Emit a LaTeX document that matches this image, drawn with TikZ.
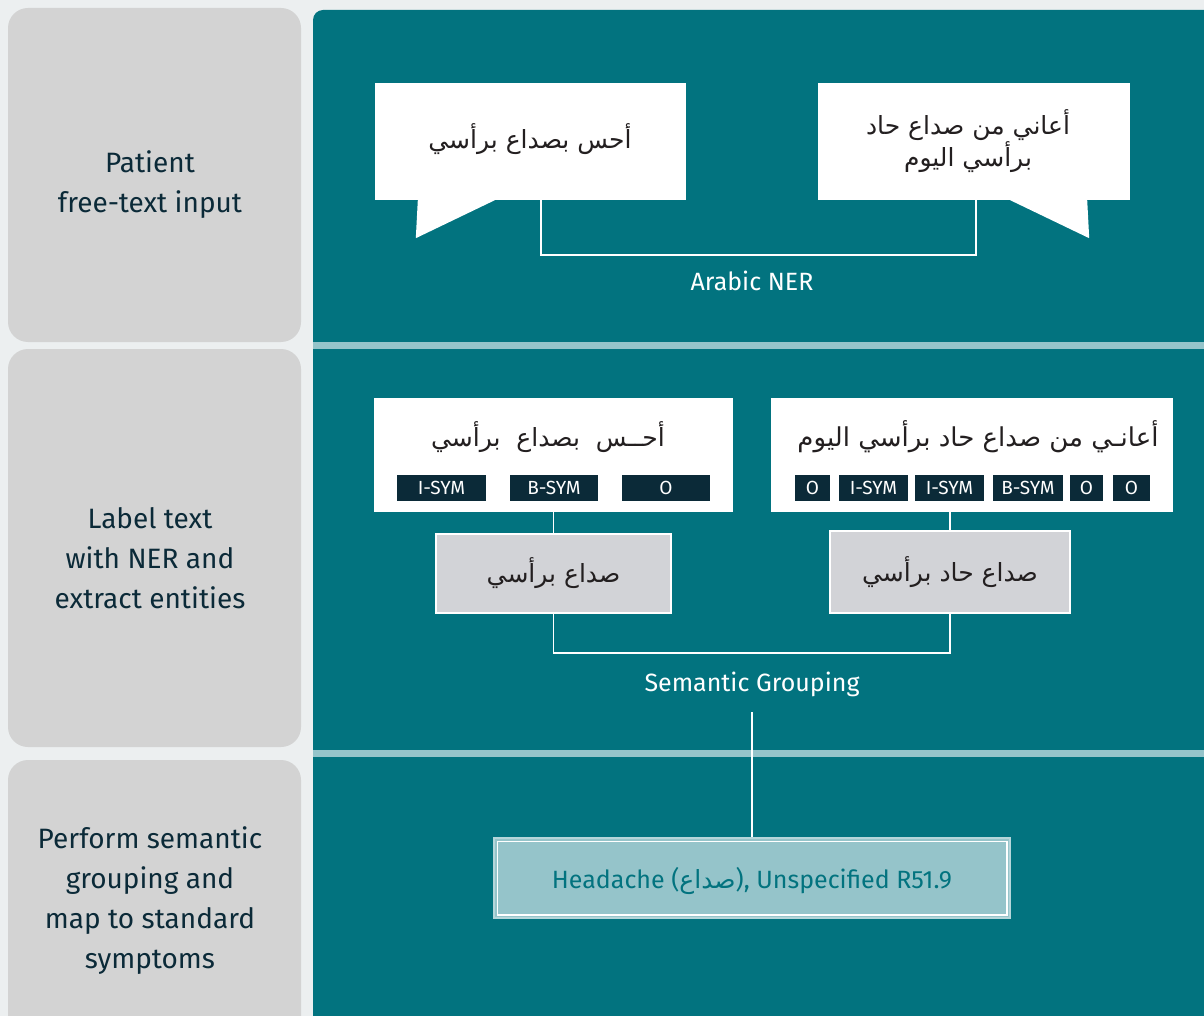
\documentclass[tikz,border=0pt]{standalone}
\usepackage{fontspec}
\setmainfont{Fira Sans}
\newfontfamily\arabicfont[Script=Arabic]{DejaVu Sans}
\TeXXeTstate=1
\definecolor{bgc}{HTML}{ECEFF0}
\definecolor{panelc}{HTML}{D3D3D3}
\definecolor{tealc}{HTML}{02737F}
\definecolor{bandc}{HTML}{95C4CA}
\definecolor{darkc}{HTML}{0B2A38}
\definecolor{grayboxc}{HTML}{D2D3D7}
\definecolor{inkc}{HTML}{231F20}
\tikzset{
  panel/.style={fill=panelc, rounded corners=20pt, minimum width=293pt, inner sep=0pt},
  paneltext/.style={text=darkc, align=center, font=\fontsize{28}{40}\selectfont},
  bubble/.style={fill=white, inner sep=0pt},
  artext/.style={text=inkc, align=center, font=\arabicfont\fontsize{25}{32}\selectfont},
  wbox/.style={fill=white, inner sep=0pt},
  tagbox/.style={fill=darkc, text=white, minimum height=26pt, inner sep=0pt, font=\fontsize{19}{20}\selectfont},
  gbox/.style={fill=grayboxc, draw=white, line width=2pt, inner sep=0pt},
  conn/.style={draw=white, line width=1.8pt},
  steplabel/.style={text=white, font=\fontsize{25}{28}\selectfont},
  resbox/.style={fill=bandc, draw=bandc!70!white, line width=1.5pt, inner sep=0pt},
  restext/.style={text=tealc, font=\fontsize{25}{28}\selectfont}
}
\begin{document}
\begin{tikzpicture}[x=1pt,y=-1pt]
\useasboundingbox (0,0) rectangle (1204,1016);
\clip (0,0) rectangle (1204,1016);
\fill[bgc] (0,0) rectangle (1204,1016);
% left panels
\node[panel, minimum height=334pt] (p1) at (154.5,175) {};
\node[panel, minimum height=398pt] (p2) at (154.5,548) {};
\node[panel, minimum height=300pt] (p3) at (154.5,910) {};
\node[paneltext] (p1t) at (150,185) {Patient\\free-text input};
\node[paneltext] (p2t) at (150,558) {Label text\\with NER and\\extract entities};
\node[paneltext] (p3t) at (150,901) {Perform semantic\\grouping and\\map to standard\\symptoms};
% teal area
\fill[tealc, rounded corners=10pt] (313,10) rectangle (1230,1040);
\fill[bandc] (313,342) rectangle (1204,349);
\fill[bandc] (313,750) rectangle (1204,757);
% row 1: speech bubbles
\node[bubble, minimum width=311pt, minimum height=117pt] (b1) at (530.5,141.5) {};
\node[bubble, minimum width=312pt, minimum height=117pt] (b2) at (974,141.5) {};
\fill[white] ([shift={(43,0)}]b1.south west) -- ([shift={(41,38)}]b1.south west) -- ([shift={(120,0)}]b1.south west) -- cycle;
\fill[white] ([shift={(-120,0)}]b2.south east) -- ([shift={(-41,38)}]b2.south east) -- ([shift={(-43,0)}]b2.south east) -- cycle;
\node[artext] (b1t) at (530,139) {\beginR أحس بصداع برأسي\endR};
\node[artext] (b2t) at (968,141) {\beginR أعاني من صداع حاد\endR\\\beginR برأسي اليوم\endR};
\draw[conn] ([xshift=10.5pt]b1.south) -- ++(0,55) -| ([xshift=2pt]b2.south);
\node[steplabel] (ner) at (752,281) {Arabic NER};
% row 2: labelled text
\node[wbox, minimum width=359pt, minimum height=114pt] (t1) at (553.5,455) {};
\node[wbox, minimum width=402pt, minimum height=114pt] (t2) at (972,455) {};
\node[artext] (t1t) at (548,437) {\beginR أحــس\ \ بصداع\ \ برأسي\endR};
\node[artext, font=\arabicfont\fontsize{26}{32}\selectfont] (t2t) at (978,437) {\beginR أعانـي من صداع حاد برأسي اليوم\endR};
\node[tagbox, minimum width=89pt] (a1) at (441.5,488) {I-SYM};
\node[tagbox, minimum width=88pt] (a2) at (554,488) {B-SYM};
\node[tagbox, minimum width=88pt] (a3) at (666,488) {O};
\node[tagbox, minimum width=35pt] (c1) at (812.5,488) {O};
\node[tagbox, minimum width=69pt] (c2) at (873.5,488) {I-SYM};
\node[tagbox, minimum width=69pt] (c3) at (949.5,488) {I-SYM};
\node[tagbox, minimum width=70pt] (c4) at (1028,488) {B-SYM};
\node[tagbox, minimum width=33pt] (c5) at (1086.5,488) {O};
\node[tagbox, minimum width=37pt] (c6) at (1131.5,488) {O};
% extracted entities
\node[gbox, minimum width=235pt, minimum height=79pt, artext] (g1) at (553.5,573.5) {\beginR صداع برأسي\endR};
\node[gbox, minimum width=240pt, minimum height=82pt, artext] (g2) at (950,572) {\beginR صداع حاد برأسي\endR};
\draw[conn] (t1.south -| g1.north) -- (g1.north);
\draw[conn] (t2.south -| g2.north) -- (g2.north);
\draw[conn] (g1.south) -- ++(0,39) -| (g2.south);
\node[steplabel] (sem) at (752,684) {Semantic Grouping};
% result
\node[resbox, minimum width=516pt, minimum height=80pt] (res) at (752,878) {};
\draw[white, line width=1.5pt] ([shift={(4,4)}]res.north west) rectangle ([shift={(-4,-4)}]res.south east);
\node[restext] (rest) at (752,881) {Headache ({\arabicfont\beginR صداع\endR}), Unspecified R51.9};
\coordinate (semfoot) at (752,712);
\draw[conn] (semfoot) -- (res.north);
\end{tikzpicture}
\end{document}
